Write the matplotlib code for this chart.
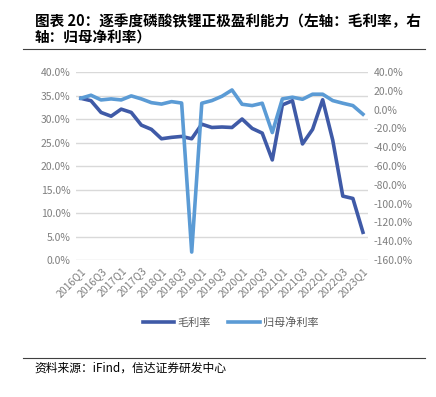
import matplotlib.pyplot as plt
from matplotlib.ticker import FuncFormatter, MultipleLocator

plt.rcParams['font.family'] = ['Noto Sans CJK SC', 'DejaVu Sans']

# 季度
quarters = [f"{y}Q{q}" for y in range(2016, 2024) for q in range(1, 5)][:29]
# 毛利率 (左轴, %)
gross_margin = [34.4, 33.9, 31.4, 30.6, 32.1, 31.4, 28.7, 27.8, 25.8, 26.1,
                26.3, 25.8, 28.9, 28.2, 28.3, 28.2, 30.0, 28.0, 27.0, 21.3,
                33.0, 33.9, 24.7, 27.8, 34.1, 25.5, 13.6, 13.1, 5.9]
# 归母净利率 (右轴, %)
net_margin = [12.1, 15.3, 10.3, 11.4, 10.3, 14.6, 11.4, 7.4, 5.9, 8.5,
              7.0, -151.5, 6.8, 9.6, 14.2, 20.9, 5.7, 4.3, 6.8, -24.4,
              11.4, 13.2, 11.0, 16.4, 16.4, 9.6, 6.8, 4.3, -4.9]

dark = '#3f5aa7'
light = '#5b9bd5'
grey = '#7f7f7f'

fig = plt.figure(figsize=(4.36, 3.97), dpi=100)
ax = fig.add_axes([0.174, 0.345, 0.670, 0.4736])
ax2 = ax.twinx()

x = list(range(len(quarters)))
l1, = ax.plot(x, gross_margin, color=dark, lw=2.6, label='毛利率')
l2, = ax2.plot(x, net_margin, color=light, lw=2.6, label='归母净利率')

ax.set_xlim(-0.5, 28.5)
ax.set_ylim(0, 40)
ax2.set_ylim(-160, 40)
ax.yaxis.set_major_locator(MultipleLocator(5))
ax2.yaxis.set_major_locator(MultipleLocator(20))
pct = FuncFormatter(lambda v, p: f"{v:.1f}%")
ax.yaxis.set_major_formatter(pct)
ax2.yaxis.set_major_formatter(pct)
ax.grid(axis='y', color='#d9d9d9', lw=1)
ax.set_axisbelow(True)

ax.set_xticks(x[::2])
ax.set_xticklabels(quarters[::2], rotation=45, ha='right', rotation_mode='anchor')

for a in (ax, ax2):
    for s in a.spines.values():
        s.set_visible(False)
    a.tick_params(length=0, labelsize=7.5, labelcolor=grey, pad=4)

fig.legend([l1, l2], ['毛利率', '归母净利率'], loc='center', bbox_to_anchor=(0.529, 0.187),
           ncol=2, frameon=False, fontsize=8, labelcolor='#595959',
           handlelength=2.8, handletextpad=0.3, columnspacing=1.6)

fig.text(0.08, 0.968, '图表 20：逐季度磷酸铁锂正极盈利能力（左轴：毛利率，右\n轴：归母净利率）',
         fontsize=10.5, fontweight='bold', va='top', ha='left', linespacing=1.05)
fig.add_artist(plt.Line2D([0.053, 0.975], [0.877, 0.877], color='#404040', lw=0.8))
fig.add_artist(plt.Line2D([0.053, 0.975], [0.098, 0.098], color='#404040', lw=0.8))
fig.text(0.08, 0.088, '资料来源：iFind，信达证券研发中心', fontsize=8.5, va='top', ha='left',
         style='italic')

fig.savefig('out.png', dpi=100)
